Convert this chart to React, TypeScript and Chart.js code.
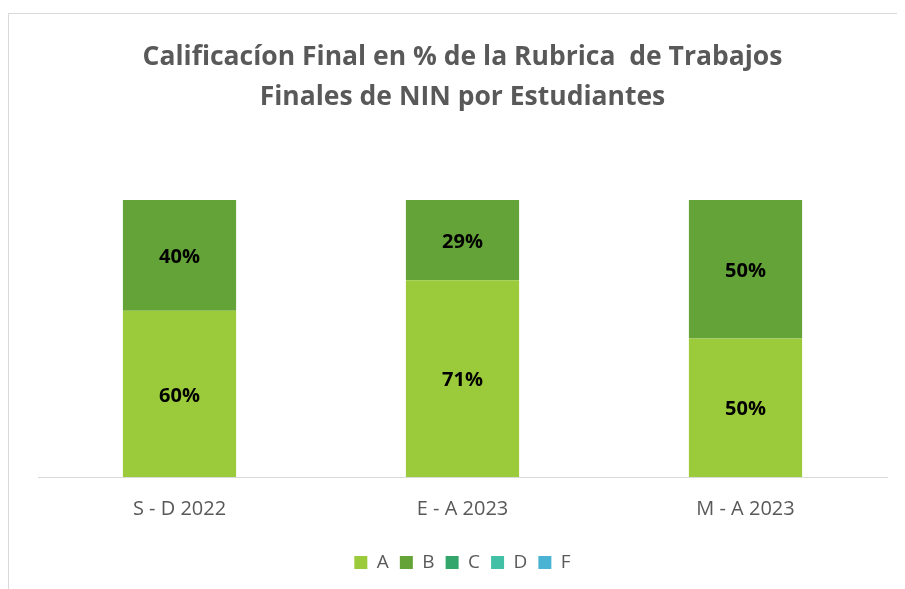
import React, { useEffect, useRef } from "react";
import { Chart, registerables } from "chart.js";

Chart.register(...registerables);

const categories = ["S - D 2022", "E - A 2023", "M - A 2023"];
const seriesNames = ["A", "B", "C", "D", "F"];
const valuesA = [60, 71, 50];
const valuesB = [40, 29, 50];
const valuesC = [0, 0, 0];
const valuesD = [0, 0, 0];
const valuesF = [0, 0, 0];
const seriesColors = ["#9BCB3B", "#64A338", "#33A66C", "#42C0A5", "#4AB3D3"];
const titleLines = [
  "Calificacíon Final en % de la Rubrica  de Trabajos",
  "Finales de NIN por Estudiantes",
];

const FONT = "'Open Sans', Lato, sans-serif";

const labelPlugin = {
  id: "segLabels",
  afterDatasetsDraw(chart: any) {
    const ctx = chart.ctx;
    ctx.save();
    ctx.font = `bold 20px ${FONT}`;
    ctx.fillStyle = "#000000";
    ctx.textAlign = "center";
    ctx.textBaseline = "middle";
    chart.data.datasets.forEach((ds: any, di: number) => {
      const meta = chart.getDatasetMeta(di);
      meta.data.forEach((el: any, i: number) => {
        const v = ds.data[i];
        if (!v) return;
        const y = (el.y + el.base) / 2 + 2;
        ctx.fillText(`${v}%`, el.x, y);
      });
    });
    ctx.restore();
  },
};

export default function App() {
  const ref = useRef<HTMLCanvasElement>(null);
  useEffect(() => {
    const all = [valuesA, valuesB, valuesC, valuesD, valuesF];
    const chart = new Chart(ref.current!, {
      type: "bar",
      data: {
        labels: categories,
        datasets: seriesNames.map((n, i) => ({
          label: n,
          data: all[i],
          backgroundColor: seriesColors[i],
          borderWidth: 0,
          barPercentage: 0.4,
          categoryPercentage: 1,
        })),
      },
      options: {
        animation: false,
        responsive: false,
        maintainAspectRatio: false,
        layout: { padding: { left: 30, right: 18, top: 0, bottom: 7 } },
        scales: {
          x: {
            stacked: true,
            grid: { display: false, drawTicks: false, tickLength: 0 },
            border: { display: true, color: "#D9D9D9", width: 1 },
            ticks: { color: "#595959", font: { family: FONT, size: 20 }, padding: 20.5 },
          },
          y: {
            stacked: true,
            display: false,
            min: 0,
            max: 100,
          },
        },
        plugins: {
          title: {
            display: true,
            text: titleLines,
            color: "#595959",
            font: { family: FONT, size: 26.5, weight: "bold", lineHeight: 1.5 },
            padding: { top: 30, bottom: 82.5 },
          },
          legend: {
            position: "bottom",
            labels: {
              boxWidth: 13,
              boxHeight: 13,
              color: "#595959",
              font: { family: FONT, size: 19 },
              padding: 11,
            },
          },
          tooltip: { enabled: false },
        },
      },
      plugins: [labelPlugin],
    });
    return () => chart.destroy();
  }, []);

  return (
    <div style={{ position: "relative", width: 897, height: 581, overflow: "hidden" }}>
      <div
        style={{
          position: "absolute",
          left: 0,
          top: 5,
          width: 920,
          height: 620,
          border: "1px solid #D9D9D9",
          boxSizing: "border-box",
        }}
      />
      <canvas
        ref={ref}
        width={897}
        height={581}
        style={{ position: "absolute", left: 0, top: 0, width: 897, height: 581 }}
      />
    </div>
  );
}
